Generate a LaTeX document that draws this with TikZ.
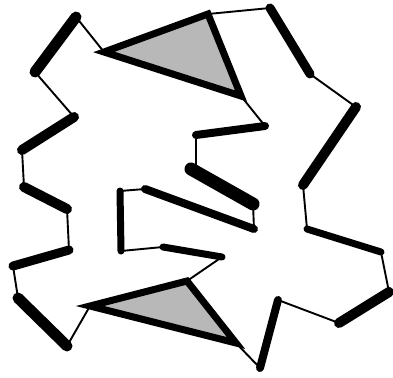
\documentclass[tikz,border=0pt]{standalone}
\begin{document}
\begin{tikzpicture}[x=1pt,y=-1pt,
  thin seg/.style={line width=1.9pt},
  thick seg/.style={line width=#1, line cap=round},
  thick seg/.default=9pt,
  tri/.style={line width=7pt, fill=black!28, line join=miter}]
\useasboundingbox (0,0) rectangle (393,377);
% triangle vertices
\coordinate (T1) at (104,52);
\coordinate (T2) at (208,14);
\coordinate (T3) at (241,96);
\coordinate (B1) at (90,306);
\coordinate (B2) at (187,281);
\coordinate (B3) at (236,343);
% outer chain
\coordinate (A1) at (76,17);
\coordinate (A2) at (35,72);
\coordinate (A3) at (74,117);
\coordinate (A4) at (22,150);
\coordinate (A5) at (24,187);
\coordinate (A6) at (67,209);
\coordinate (A7) at (69,250);
\coordinate (A8) at (13,266);
\coordinate (A9) at (18,298);
\coordinate (A10) at (67,346);
\coordinate (C1) at (260,368);
\coordinate (C2) at (278,300);
\coordinate (C3) at (339,323);
\coordinate (C4) at (389,292);
\coordinate (C5) at (381,252);
\coordinate (C6) at (307,229);
\coordinate (C7) at (303,185);
\coordinate (C8) at (356,107);
\coordinate (C9) at (310,74);
\coordinate (C10) at (270,8);
% inner chain
\coordinate (D1) at (265,126);
\coordinate (D2) at (196,135);
\coordinate (D3) at (191,169);
\coordinate (D4) at (253,204);
\coordinate (D5) at (254,229);
\coordinate (D6) at (145,189);
\coordinate (D7) at (120,191);
\coordinate (D8) at (121,251);
\coordinate (D9) at (163,247);
\coordinate (D10) at (222,257);
% thin segments
\draw[thin seg] (T1) -- (A1);
\draw[thin seg] (A2) -- (A3);
\draw[thin seg] (A4) -- (A5);
\draw[thin seg] (A6) -- (A7);
\draw[thin seg] (A8) -- (A9);
\draw[thin seg] (A10) -- (B1);
\draw[thin seg] (B3) -- (C1);
\draw[thin seg] (C2) -- (C3);
\draw[thin seg] (C4) -- (C5);
\draw[thin seg] (C6) -- (C7);
\draw[thin seg] (C8) -- (C9);
\draw[thin seg] (C10) -- (T2);
\draw[thin seg] (T3) -- (D1);
\draw[thin seg] (D2) -- (D2 |- D3);
\draw[thin seg] (D4) -- (D5);
\draw[thin seg] (D6) -- (D7);
\draw[thin seg] (D8) -- (D9);
\draw[thin seg] (D10) -- (B2);
% thick segments
\draw[thick seg=11pt] (A1) -- (A2);
\draw[thick seg=10pt] (A3) -- (A4);
\draw[thick seg=10pt] (A5) -- (A6);
\draw[thick seg=9pt] (A7) -- (A8);
\draw[thick seg=11pt] (A9) -- (A10);
\draw[thick seg=8pt] (C1) -- (C2);
\draw[thick seg=10pt] (C3) -- (C4);
\draw[thick seg=7pt] (C5) -- (C6);
\draw[thick seg=10pt] (C7) -- (C8);
\draw[thick seg=9pt] (C9) -- (C10);
\draw[thick seg=8pt] (D1) -- (D2);
\draw[thick seg=13pt] (D3) -- (D4);
\draw[thick seg=8pt] (D5) -- (D6);
\draw[thick seg=7pt] (D7) -- (D8);
\draw[thick seg=7pt] (D9) -- (D10);
% triangles
\draw[tri] (T1) -- (T2) -- (T3) -- cycle;
\draw[tri] (B1) -- (B2) -- (B3) -- cycle;
\end{tikzpicture}
\end{document}
